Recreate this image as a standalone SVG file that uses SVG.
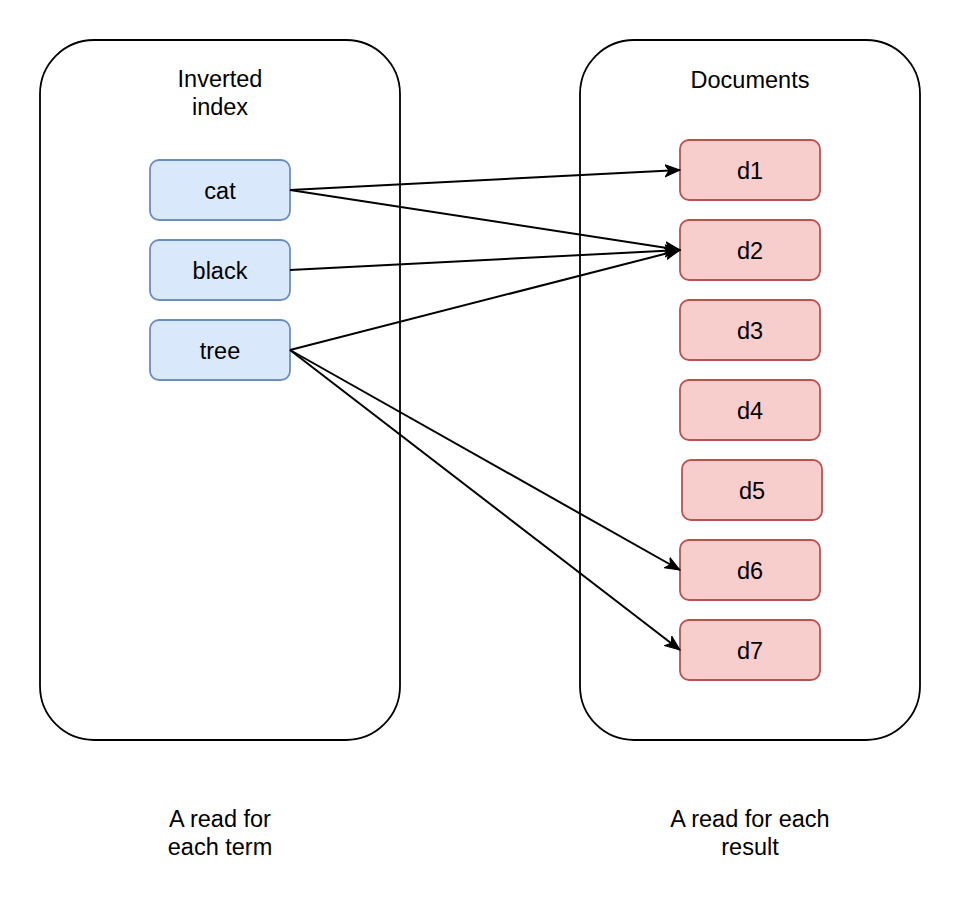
<svg xmlns="http://www.w3.org/2000/svg" width="962" height="902" viewBox="0 0 962 902">
  <style>
    .container { fill: #ffffff; stroke: #000000; stroke-width: 1.8; }
    .term { fill: #dae8fc; stroke: #6c8ebf; stroke-width: 1.8; }
    .doc { fill: #f8cecc; stroke: #b85450; stroke-width: 1.8; }
    .lbl { font-family: "Liberation Sans", Arial, sans-serif; font-size: 23.5px; fill: #000000; text-anchor: middle; }
    .edge { fill: none; stroke: #000000; stroke-width: 2; }
  </style>
  <defs>
    <marker id="arrow" markerUnits="userSpaceOnUse" markerWidth="18" markerHeight="14" refX="15" refY="7" orient="auto" viewBox="0 0 18 14">
      <path d="M15,7 L0,1 L4,7 L0,13 Z" fill="#000000" stroke="#000000" stroke-width="1"/>
    </marker>
  </defs>
  <rect width="962" height="902" fill="#ffffff"/>

  <g id="inverted-index">
    <rect class="container" x="40" y="40" width="360" height="700" rx="54" ry="54"/>
    <text class="lbl" x="220" y="87">Inverted</text>
    <text class="lbl" x="220" y="115">index</text>
  </g>
  <g id="documents">
    <rect class="container" x="580" y="40" width="340" height="700" rx="54" ry="54"/>
    <text class="lbl" x="750" y="88">Documents</text>
  </g>

  <g id="term-cat">
    <rect class="term" x="150" y="160" width="140" height="60" rx="9" ry="9"/>
    <text class="lbl" x="220" y="199">cat</text>
  </g>
  <g id="term-black">
    <rect class="term" x="150" y="240" width="140" height="60" rx="9" ry="9"/>
    <text class="lbl" x="220" y="279">black</text>
  </g>
  <g id="term-tree">
    <rect class="term" x="150" y="320" width="140" height="60" rx="9" ry="9"/>
    <text class="lbl" x="220" y="359">tree</text>
  </g>

  <g id="doc-d1">
    <rect class="doc" x="680" y="140" width="140" height="60" rx="9" ry="9"/>
    <text class="lbl" x="750" y="179">d1</text>
  </g>
  <g id="doc-d2">
    <rect class="doc" x="680" y="220" width="140" height="60" rx="9" ry="9"/>
    <text class="lbl" x="750" y="259">d2</text>
  </g>
  <g id="doc-d3">
    <rect class="doc" x="680" y="300" width="140" height="60" rx="9" ry="9"/>
    <text class="lbl" x="750" y="339">d3</text>
  </g>
  <g id="doc-d4">
    <rect class="doc" x="680" y="380" width="140" height="60" rx="9" ry="9"/>
    <text class="lbl" x="750" y="419">d4</text>
  </g>
  <g id="doc-d5">
    <rect class="doc" x="682" y="460" width="140" height="60" rx="9" ry="9"/>
    <text class="lbl" x="752" y="499">d5</text>
  </g>
  <g id="doc-d6">
    <rect class="doc" x="680" y="540" width="140" height="60" rx="9" ry="9"/>
    <text class="lbl" x="750" y="579">d6</text>
  </g>
  <g id="doc-d7">
    <rect class="doc" x="680" y="620" width="140" height="60" rx="9" ry="9"/>
    <text class="lbl" x="750" y="659">d7</text>
  </g>

  <g id="connectors">
    <line class="edge" x1="290" y1="190" x2="680" y2="170" marker-end="url(#arrow)"/>
    <line class="edge" x1="290" y1="190" x2="680" y2="250" marker-end="url(#arrow)"/>
    <line class="edge" x1="290" y1="270" x2="680" y2="250" marker-end="url(#arrow)"/>
    <line class="edge" x1="290" y1="350" x2="680" y2="250" marker-end="url(#arrow)"/>
    <line class="edge" x1="290" y1="350" x2="680" y2="570" marker-end="url(#arrow)"/>
    <line class="edge" x1="290" y1="350" x2="680" y2="650" marker-end="url(#arrow)"/>
  </g>

  <g id="captions">
    <text class="lbl" x="220" y="827">A read for</text>
    <text class="lbl" x="220" y="855">each term</text>
    <text class="lbl" x="750" y="827">A read for each</text>
    <text class="lbl" x="750" y="855">result</text>
  </g>
</svg>
